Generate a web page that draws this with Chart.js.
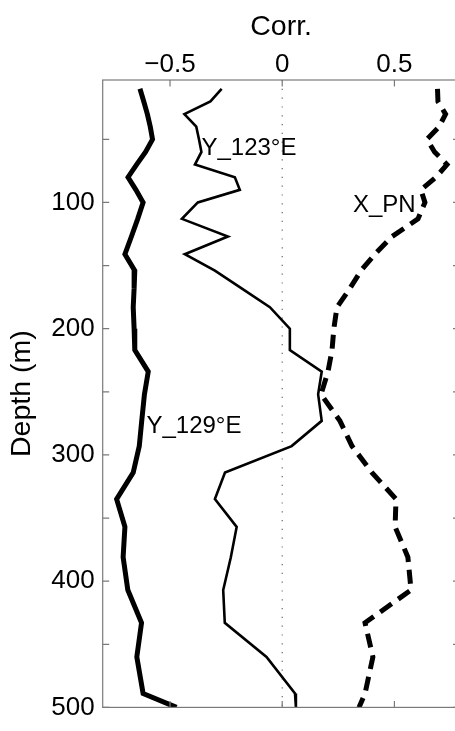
<!DOCTYPE html>
<html>
<head>
<meta charset="utf-8">
<script src="https://cdn.jsdelivr.net/npm/chart.js@4.4.1/dist/chart.umd.min.js"></script>
<style>
  html, body { margin: 0; padding: 0; background: #fff; width: 455px; height: 731px; overflow: hidden; }
  canvas { display: block; }
</style>
</head>
<body>
<canvas id="chart" width="470" height="731"></canvas>
<script>
// Depth levels (m) shared by the three correlation profiles
const depths = [10, 20, 30, 40, 50, 60, 70, 80, 90, 100, 113, 127, 141, 154, 168, 183, 200, 217, 234, 252,
                273, 293, 314, 335, 357, 381, 407, 433, 460, 489, 500];

// Correlation profiles
const corrY123 = [-0.270, -0.320, -0.436, -0.383, -0.371, -0.360, -0.389, -0.211, -0.189, -0.376,
                  -0.447, -0.242, -0.434, -0.300, -0.181, -0.055, 0.034, 0.034, 0.176, 0.160,
                  0.176, 0.042, -0.255, -0.300, -0.203, -0.229, -0.263, -0.256, -0.070, 0.057, 0.061];
const corrY129 = [-0.634, -0.617, -0.601, -0.588, -0.578, -0.609, -0.649, -0.687, -0.652, -0.620,
                  -0.644, -0.672, -0.701, -0.657, -0.660, -0.664, -0.660, -0.657, -0.597, -0.614,
                  -0.626, -0.637, -0.664, -0.738, -0.701, -0.709, -0.688, -0.627, -0.648, -0.620, -0.471];
const corrXPN  = [0.692, 0.694, 0.728, 0.699, 0.645, 0.679, 0.734, 0.685, 0.618, 0.636,
                  0.605, 0.489, 0.413, 0.351, 0.302, 0.244, 0.230, 0.222, 0.204, 0.173,
                  0.257, 0.311, 0.400, 0.507, 0.503, 0.560, 0.574, 0.369, 0.404, 0.369, 0.342];

const seriesNames = ['Y_123°E', 'Y_129°E', 'X_PN'];

// Axis ticks
const xTicks = [-0.5, 0, 0.5];
const xTickLabels = ['\u22120.5', '0', '0.5'];
const yTicks = [50, 100, 150, 200, 250, 300, 350, 400, 450, 500];
const yTickLabels = ['', '100', '', '200', '', '300', '', '400', '', '500'];

// Where each profile's name is written (corr, depth)
const nameAnchors = [
  { x: -0.360, y: 57 },
  { x: -0.605, y: 277 },
  { x: 0.315, y: 102 }
];

const FONT = "'Liberation Sans', Arial, Helvetica, sans-serif";
const X_MIN = -0.8, X_MAX = 0.79, Y_MIN = 3, Y_MAX = 500;

const toPoints = vals => vals.map((v, i) => ({ x: v, y: depths[i] }));

// Box, inward tick marks and profile names
const framePlugin = {
  id: 'frame',
  afterDatasetsDraw(chart) {
    const { ctx, chartArea: a, scales: { x, y } } = chart;
    ctx.save();
    ctx.strokeStyle = '#7a7a7a';
    ctx.lineWidth = 1.2;
    ctx.strokeRect(a.left, a.top, a.right - a.left, a.bottom - a.top);
    const tl = 6.5;
    ctx.beginPath();
    xTicks.forEach(v => {
      const px = x.getPixelForValue(v);
      ctx.moveTo(px, a.top); ctx.lineTo(px, a.top + tl);
      ctx.moveTo(px, a.bottom); ctx.lineTo(px, a.bottom - tl);
    });
    yTicks.forEach(v => {
      const py = y.getPixelForValue(v);
      ctx.moveTo(a.left, py); ctx.lineTo(a.left + tl, py);
      ctx.moveTo(a.right, py); ctx.lineTo(a.right - tl, py);
    });
    ctx.stroke();

    ctx.fillStyle = '#000';
    ctx.font = '24px ' + FONT;
    ctx.textAlign = 'left';
    ctx.textBaseline = 'middle';
    nameAnchors.forEach((p, i) => {
      ctx.fillText(seriesNames[i], x.getPixelForValue(p.x), y.getPixelForValue(p.y));
    });
    ctx.restore();
  }
};

new Chart(document.getElementById('chart'), {
  type: 'scatter',
  data: {
    datasets: [
      {
        label: seriesNames[0],
        data: toPoints(corrY123),
        showLine: true,
        borderColor: '#000',
        borderWidth: 2.6,
        pointRadius: 0,
        order: 1
      },
      {
        label: seriesNames[1],
        data: toPoints(corrY129),
        showLine: true,
        borderColor: '#000',
        borderWidth: 5,
        pointRadius: 0,
        order: 2
      },
      {
        label: seriesNames[2],
        data: toPoints(corrXPN),
        showLine: true,
        borderColor: '#000',
        borderWidth: 5,
        borderDash: [14, 8],
        borderCapStyle: 'butt',
        pointRadius: 0,
        order: 3
      },
      {
        label: 'zero',
        data: [{ x: 0, y: Y_MIN }, { x: 0, y: Y_MAX }],
        showLine: true,
        borderColor: '#666',
        borderWidth: 1.2,
        borderDash: [1.2, 7.6],
        pointRadius: 0,
        order: 10
      }
    ]
  },
  options: {
    responsive: false,
    animation: false,
    events: [],
    layout: { padding: { left: 0, top: 0, right: 10.5, bottom: 11 } },
    plugins: { legend: { display: false }, tooltip: { enabled: false } },
    scales: {
      x: {
        type: 'linear',
        position: 'top',
        min: X_MIN,
        max: X_MAX,
        afterBuildTicks: s => { s.ticks = xTicks.map(v => ({ value: v })); },
        afterFit: s => { s.height = 80; },
        grid: { display: false, drawTicks: false },
        border: { display: false },
        ticks: {
          autoSkip: false,
          maxRotation: 0,
          padding: 0,
          color: '#000',
          font: { family: FONT, size: 26 },
          callback: v => xTickLabels[xTicks.indexOf(v)]
        },
        title: {
          display: true,
          text: 'Corr.',
          color: '#000',
          font: { family: FONT, size: 28.5 },
          padding: { top: 10, bottom: 0 }
        }
      },
      y: {
        type: 'linear',
        reverse: true,
        min: Y_MIN,
        max: Y_MAX,
        afterBuildTicks: s => { s.ticks = yTicks.map(v => ({ value: v })); },
        afterFit: s => { s.width = 102.7; },
        grid: { display: false, drawTicks: false },
        border: { display: false },
        ticks: {
          autoSkip: false,
          padding: 8,
          color: '#000',
          font: { family: FONT, size: 26 },
          callback: v => yTickLabels[yTicks.indexOf(v)]
        },
        title: {
          display: true,
          text: 'Depth (m)',
          color: '#000',
          font: { family: FONT, size: 28.5 },
          padding: { top: 5, bottom: 0 }
        }
      }
    }
  },
  plugins: [framePlugin]
});
</script>
</body>
</html>
